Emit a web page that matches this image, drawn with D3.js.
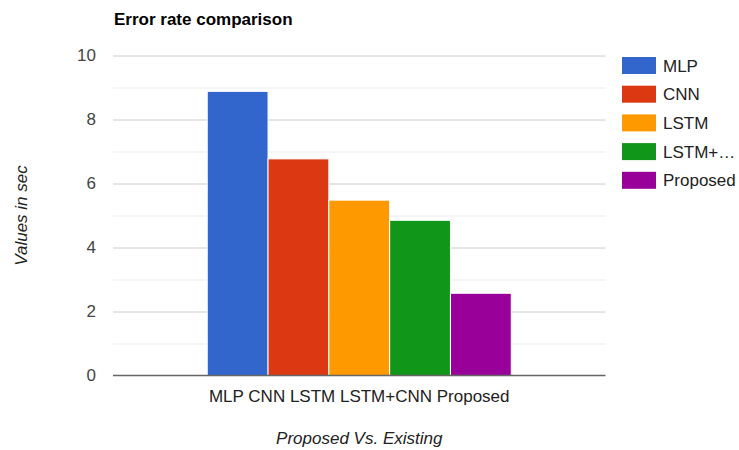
<!DOCTYPE html>
<html>
<head>
<meta charset="utf-8">
<script src="https://cdn.jsdelivr.net/npm/d3@7"></script>
<style>
  html, body { margin: 0; padding: 0; background: #fff; }
  svg { display: block; font-family: "Liberation Sans", Arial, sans-serif; }
</style>
</head>
<body>
<svg id="chart" width="739" height="450"></svg>
<script>
// Chart data
const categories = ["MLP CNN LSTM LSTM+CNN Proposed"];
const seriesNames = ["MLP", "CNN", "LSTM", "LSTM+CNN", "Proposed"];
const legendLabels = ["MLP", "CNN", "LSTM", "LSTM+…", "Proposed"];
const seriesValues = [8.88, 6.77, 5.48, 4.85, 2.57];
const seriesColors = ["#3366cc", "#dc3912", "#ff9900", "#109618", "#990099"];
const yTicks = [0, 2, 4, 6, 8, 10];
const yMinorTicks = [1, 3, 5, 7, 9];

const svg = d3.select("#chart");
const margin = { left: 113, right: 133.5, top: 55.5, bottom: 74.5 };
const W = 739, H = 450;
const plotW = W - margin.left - margin.right;
const plotH = H - margin.top - margin.bottom;
const FONT = "'Liberation Sans', Arial, sans-serif";

const g = svg.append("g").attr("transform", `translate(${margin.left},${margin.top})`);

const y = d3.scaleLinear().domain([0, 10]).range([plotH, 0]);
const x0 = d3.scaleBand().domain(categories).range([0, plotW]).paddingInner(0).paddingOuter(0.31);
const x1 = d3.scaleBand().domain(seriesNames).range([0, x0.bandwidth()]).padding(0);

// Gridlines
g.selectAll(".minor").data(yMinorTicks).join("line")
  .attr("x1", 0).attr("x2", plotW)
  .attr("y1", d => Math.round(y(d)) + 0.5).attr("y2", d => Math.round(y(d)) + 0.5)
  .attr("stroke", "#ebebeb").attr("stroke-width", 1);
g.selectAll(".major").data(yTicks.filter(d => d !== 0)).join("line")
  .attr("x1", 0).attr("x2", plotW)
  .attr("y1", d => Math.round(y(d)) + 0.5).attr("y2", d => Math.round(y(d)) + 0.5)
  .attr("stroke", "#cccccc").attr("stroke-width", 1);

// Y tick labels via axis
const yAxis = g.append("g").call(d3.axisLeft(y).tickValues(yTicks).tickSize(0).tickPadding(17));
yAxis.select(".domain").remove();
yAxis.selectAll("text")
  .attr("fill", "#444").attr("font-size", 17).attr("font-family", FONT);

// Bars
const group = g.selectAll(".grp").data(categories).join("g")
  .attr("transform", d => `translate(${x0(d)},0)`);
group.selectAll("rect").data(seriesNames.map((s, i) => ({ s, v: seriesValues[i], c: seriesColors[i] })))
  .join("rect")
  .attr("x", d => x1(d.s))
  .attr("width", x1.bandwidth())
  .attr("y", d => y(d.v))
  .attr("height", d => y(0) - y(d.v))
  .attr("fill", d => d.c)
  .attr("stroke", "#ffffff").attr("stroke-width", 1);

// Baseline
g.append("line").attr("x1", 0).attr("x2", plotW)
  .attr("y1", y(0)).attr("y2", y(0))
  .attr("stroke", "#666").attr("stroke-width", 1.5);

// X axis category label
const xAxis = g.append("g").attr("transform", `translate(0,${plotH})`)
  .call(d3.axisBottom(x0).tickSize(0).tickPadding(14));
xAxis.select(".domain").remove();
xAxis.selectAll("text")
  .attr("fill", "#222").attr("font-size", 17).attr("font-family", FONT);

// Title
svg.append("text").attr("x", 114).attr("y", 25)
  .attr("font-size", 17).attr("font-weight", "bold").attr("fill", "#000")
  .text("Error rate comparison");

// Axis titles
svg.append("text")
  .attr("x", margin.left + plotW / 2).attr("y", 444)
  .attr("text-anchor", "middle").attr("font-size", 17).attr("font-style", "italic").attr("fill", "#222")
  .text("Proposed Vs. Existing");
svg.append("text")
  .attr("transform", `translate(27,${margin.top + plotH / 2}) rotate(-90)`)
  .attr("text-anchor", "middle").attr("font-size", 17).attr("font-style", "italic").attr("fill", "#222")
  .text("Values in sec");

// Legend
const legend = svg.append("g").attr("transform", "translate(622,57)");
const items = legend.selectAll("g").data(legendLabels).join("g")
  .attr("transform", (d, i) => `translate(0,${i * 28.7})`);
items.append("rect").attr("width", 34).attr("height", 17)
  .attr("fill", (d, i) => seriesColors[i]);
items.append("text").attr("x", 41).attr("y", 14.5)
  .attr("font-size", 17).attr("fill", "#222").text(d => d);
</script>
</body>
</html>
